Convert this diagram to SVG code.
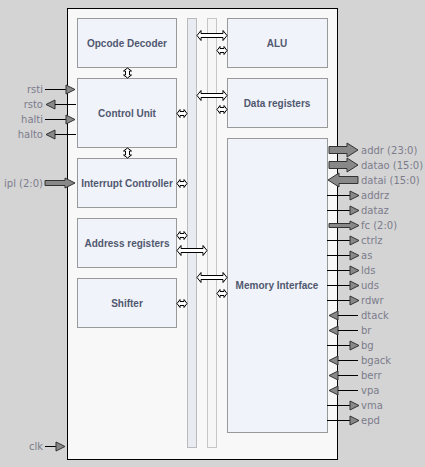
<svg xmlns="http://www.w3.org/2000/svg" width="425" height="467" viewBox="0 0 425 467">
<defs>
<style>
.bg{fill:#d4d4d4}
.main{fill:#f8f8f8;stroke:#000;stroke-width:1}
.blk{fill:#f0f3f9;stroke:#999;stroke-width:1}
.bar1{fill:#e8ebf2;stroke:#bbb;stroke-width:1}
.bar2{fill:#f6f6f6;stroke:#c6c6c6;stroke-width:1}
.lbl{font-family:"Liberation Sans",Arial,sans-serif;font-size:10px;font-weight:bold;fill:#505870;text-anchor:middle}
.sig{font-family:"DejaVu Sans",Verdana,sans-serif;font-size:10px;fill:#7c7c8c}
.sigl{font-family:"DejaVu Sans",Verdana,sans-serif;font-size:10px;fill:#7c7c8c;text-anchor:end}
.wire{stroke:#000;stroke-width:1;fill:none}
.tri{fill:#888;stroke:#333;stroke-width:1}
.bus{fill:#fff;stroke:#000;stroke-width:1}
</style>
<path id="sa" d="M-5,0 L-2,-4 L-2,-2 L2,-2 L2,-4 L5,0 L2,4 L2,2 L-2,2 L-2,4 Z"/>
<path id="ba" d="M-15,0 L-11,-5 L-11,-2 L11,-2 L11,-5 L15,0 L11,5 L11,2 L-11,2 L-11,5 Z"/>
</defs>
<rect class="bg" x="0" y="0" width="425" height="467"/>
<g id="cpu">
<rect class="main" x="67.5" y="8.5" width="270" height="451"/>
</g>
<g id="bus1"><rect class="bar1" x="187.5" y="18.5" width="9" height="429"/></g>
<g id="bus2"><rect class="bar2" x="207.5" y="18.5" width="9" height="429"/></g>
<g id="opcode-decoder"><rect class="blk" x="77.5" y="18.5" width="99" height="49"/><text class="lbl" x="127" y="47">Opcode Decoder</text></g>
<g id="control-unit"><rect class="blk" x="77.5" y="78.5" width="99" height="69"/><text class="lbl" x="127" y="117">Control Unit</text></g>
<g id="interrupt-controller"><rect class="blk" x="77.5" y="158.5" width="99" height="49"/><text class="lbl" x="127" y="187">Interrupt Controller</text></g>
<g id="address-registers"><rect class="blk" x="77.5" y="218.5" width="99" height="49"/><text class="lbl" x="127" y="247">Address registers</text></g>
<g id="shifter"><rect class="blk" x="77.5" y="278.5" width="99" height="49"/><text class="lbl" x="127" y="307">Shifter</text></g>
<g id="alu"><rect class="blk" x="227.5" y="18.5" width="100" height="49"/><text class="lbl" x="277" y="47">ALU</text></g>
<g id="data-registers"><rect class="blk" x="227.5" y="78.5" width="100" height="49"/><text class="lbl" x="277" y="107">Data registers</text></g>
<g id="memory-interface"><rect class="blk" x="227.5" y="138.5" width="100" height="294"/><text class="lbl" x="277" y="289">Memory Interface</text></g>
<g id="connectors">
<g class="bus">
<use href="#ba" x="212" y="35.5"/>
<use href="#ba" x="212" y="95.5"/>
<use href="#ba" x="192" y="250.5"/>
<use href="#ba" x="212" y="277.5"/>
<use href="#sa" x="182" y="113.5"/>
<use href="#sa" x="182" y="183.5"/>
<use href="#sa" x="182" y="235.5"/>
<use href="#sa" x="182" y="303.5"/>
<use href="#sa" x="222" y="50.5"/>
<use href="#sa" x="222" y="109.5"/>
<use href="#sa" x="222" y="293.5"/>
<use href="#sa" transform="translate(127.5 73) rotate(90)"/>
<use href="#sa" transform="translate(127.5 153) rotate(90)"/>
</g>
<!-- left signals -->
<line class="wire" x1="45" y1="89.5" x2="66" y2="89.5"/><polygon class="tri" points="66,85 75,89.5 66,94"/>
<polygon class="tri" points="55,100 46,104.5 55,109"/><line class="wire" x1="55" y1="104.5" x2="76" y2="104.5"/>
<line class="wire" x1="45" y1="119.5" x2="66" y2="119.5"/><polygon class="tri" points="66,115 75,119.5 66,124"/>
<polygon class="tri" points="55,130 46,134.5 55,139"/><line class="wire" x1="55" y1="134.5" x2="76" y2="134.5"/>
<polygon class="tri" points="45,180.5 65,180.5 65,178 75,183 65,188 65,185.5 45,185.5"/>
<line class="wire" x1="45" y1="446.5" x2="56" y2="446.5"/><polygon class="tri" points="56,442 65,446.5 56,451"/>
<!-- right signals -->
<polygon class="tri" points="329,146.5 347,146.5 347,143 358,150 347,157 347,153.5 329,153.5"/>
<polygon class="tri" points="329,161.5 347,161.5 347,158 358,165 347,172 347,168.5 329,168.5"/>
<polygon class="tri" points="358,176.5 339,176.5 339,173 328,180 339,187 339,183.5 358,183.5"/>
<line class="wire" x1="327" y1="195.5" x2="350" y2="195.5"/><polygon class="tri" points="350,191 359,195.5 350,200"/>
<line class="wire" x1="327" y1="210.5" x2="350" y2="210.5"/><polygon class="tri" points="350,206 359,210.5 350,215"/>
<polygon class="tri" points="329,223.5 350,223.5 350,221 359,225.5 350,230 350,227.5 329,227.5"/>
<line class="wire" x1="327" y1="240.5" x2="350" y2="240.5"/><polygon class="tri" points="350,236 359,240.5 350,245"/>
<line class="wire" x1="327" y1="255.5" x2="350" y2="255.5"/><polygon class="tri" points="350,251 359,255.5 350,260"/>
<line class="wire" x1="327" y1="270.5" x2="350" y2="270.5"/><polygon class="tri" points="350,266 359,270.5 350,275"/>
<line class="wire" x1="327" y1="285.5" x2="350" y2="285.5"/><polygon class="tri" points="350,281 359,285.5 350,290"/>
<line class="wire" x1="327" y1="300.5" x2="350" y2="300.5"/><polygon class="tri" points="350,296 359,300.5 350,305"/>
<polygon class="tri" points="338,311 329,315.5 338,320"/><line class="wire" x1="338" y1="315.5" x2="358" y2="315.5"/>
<polygon class="tri" points="338,326 329,330.5 338,335"/><line class="wire" x1="338" y1="330.5" x2="358" y2="330.5"/>
<line class="wire" x1="327" y1="345.5" x2="350" y2="345.5"/><polygon class="tri" points="350,341 359,345.5 350,350"/>
<polygon class="tri" points="338,356 329,360.5 338,365"/><line class="wire" x1="338" y1="360.5" x2="358" y2="360.5"/>
<polygon class="tri" points="338,371 329,375.5 338,380"/><line class="wire" x1="338" y1="375.5" x2="358" y2="375.5"/>
<polygon class="tri" points="338,386 329,390.5 338,395"/><line class="wire" x1="338" y1="390.5" x2="358" y2="390.5"/>
<line class="wire" x1="327" y1="405.5" x2="350" y2="405.5"/><polygon class="tri" points="350,401 359,405.5 350,410"/>
<line class="wire" x1="327" y1="420.5" x2="350" y2="420.5"/><polygon class="tri" points="350,416 359,420.5 350,425"/>
</g>
<g id="signal-labels">
<text class="sigl" x="43" y="93">rsti</text>
<text class="sigl" x="43" y="108">rsto</text>
<text class="sigl" x="43" y="123">halti</text>
<text class="sigl" x="43" y="138">halto</text>
<text class="sigl" x="43" y="187">ipl (2:0)</text>
<text class="sigl" x="43" y="450">clk</text>
<text class="sig" x="361" y="154">addr (23:0)</text>
<text class="sig" x="361" y="169">datao (15:0)</text>
<text class="sig" x="361" y="184">datai (15:0)</text>
<text class="sig" x="361" y="199">addrz</text>
<text class="sig" x="361" y="214">dataz</text>
<text class="sig" x="361" y="229">fc (2:0)</text>
<text class="sig" x="361" y="244">ctrlz</text>
<text class="sig" x="361" y="259">as</text>
<text class="sig" x="361" y="274">lds</text>
<text class="sig" x="361" y="289">uds</text>
<text class="sig" x="361" y="304">rdwr</text>
<text class="sig" x="361" y="319">dtack</text>
<text class="sig" x="361" y="334">br</text>
<text class="sig" x="361" y="349">bg</text>
<text class="sig" x="361" y="364">bgack</text>
<text class="sig" x="361" y="379">berr</text>
<text class="sig" x="361" y="394">vpa</text>
<text class="sig" x="361" y="409">vma</text>
<text class="sig" x="361" y="424">epd</text>
</g>
</svg>
